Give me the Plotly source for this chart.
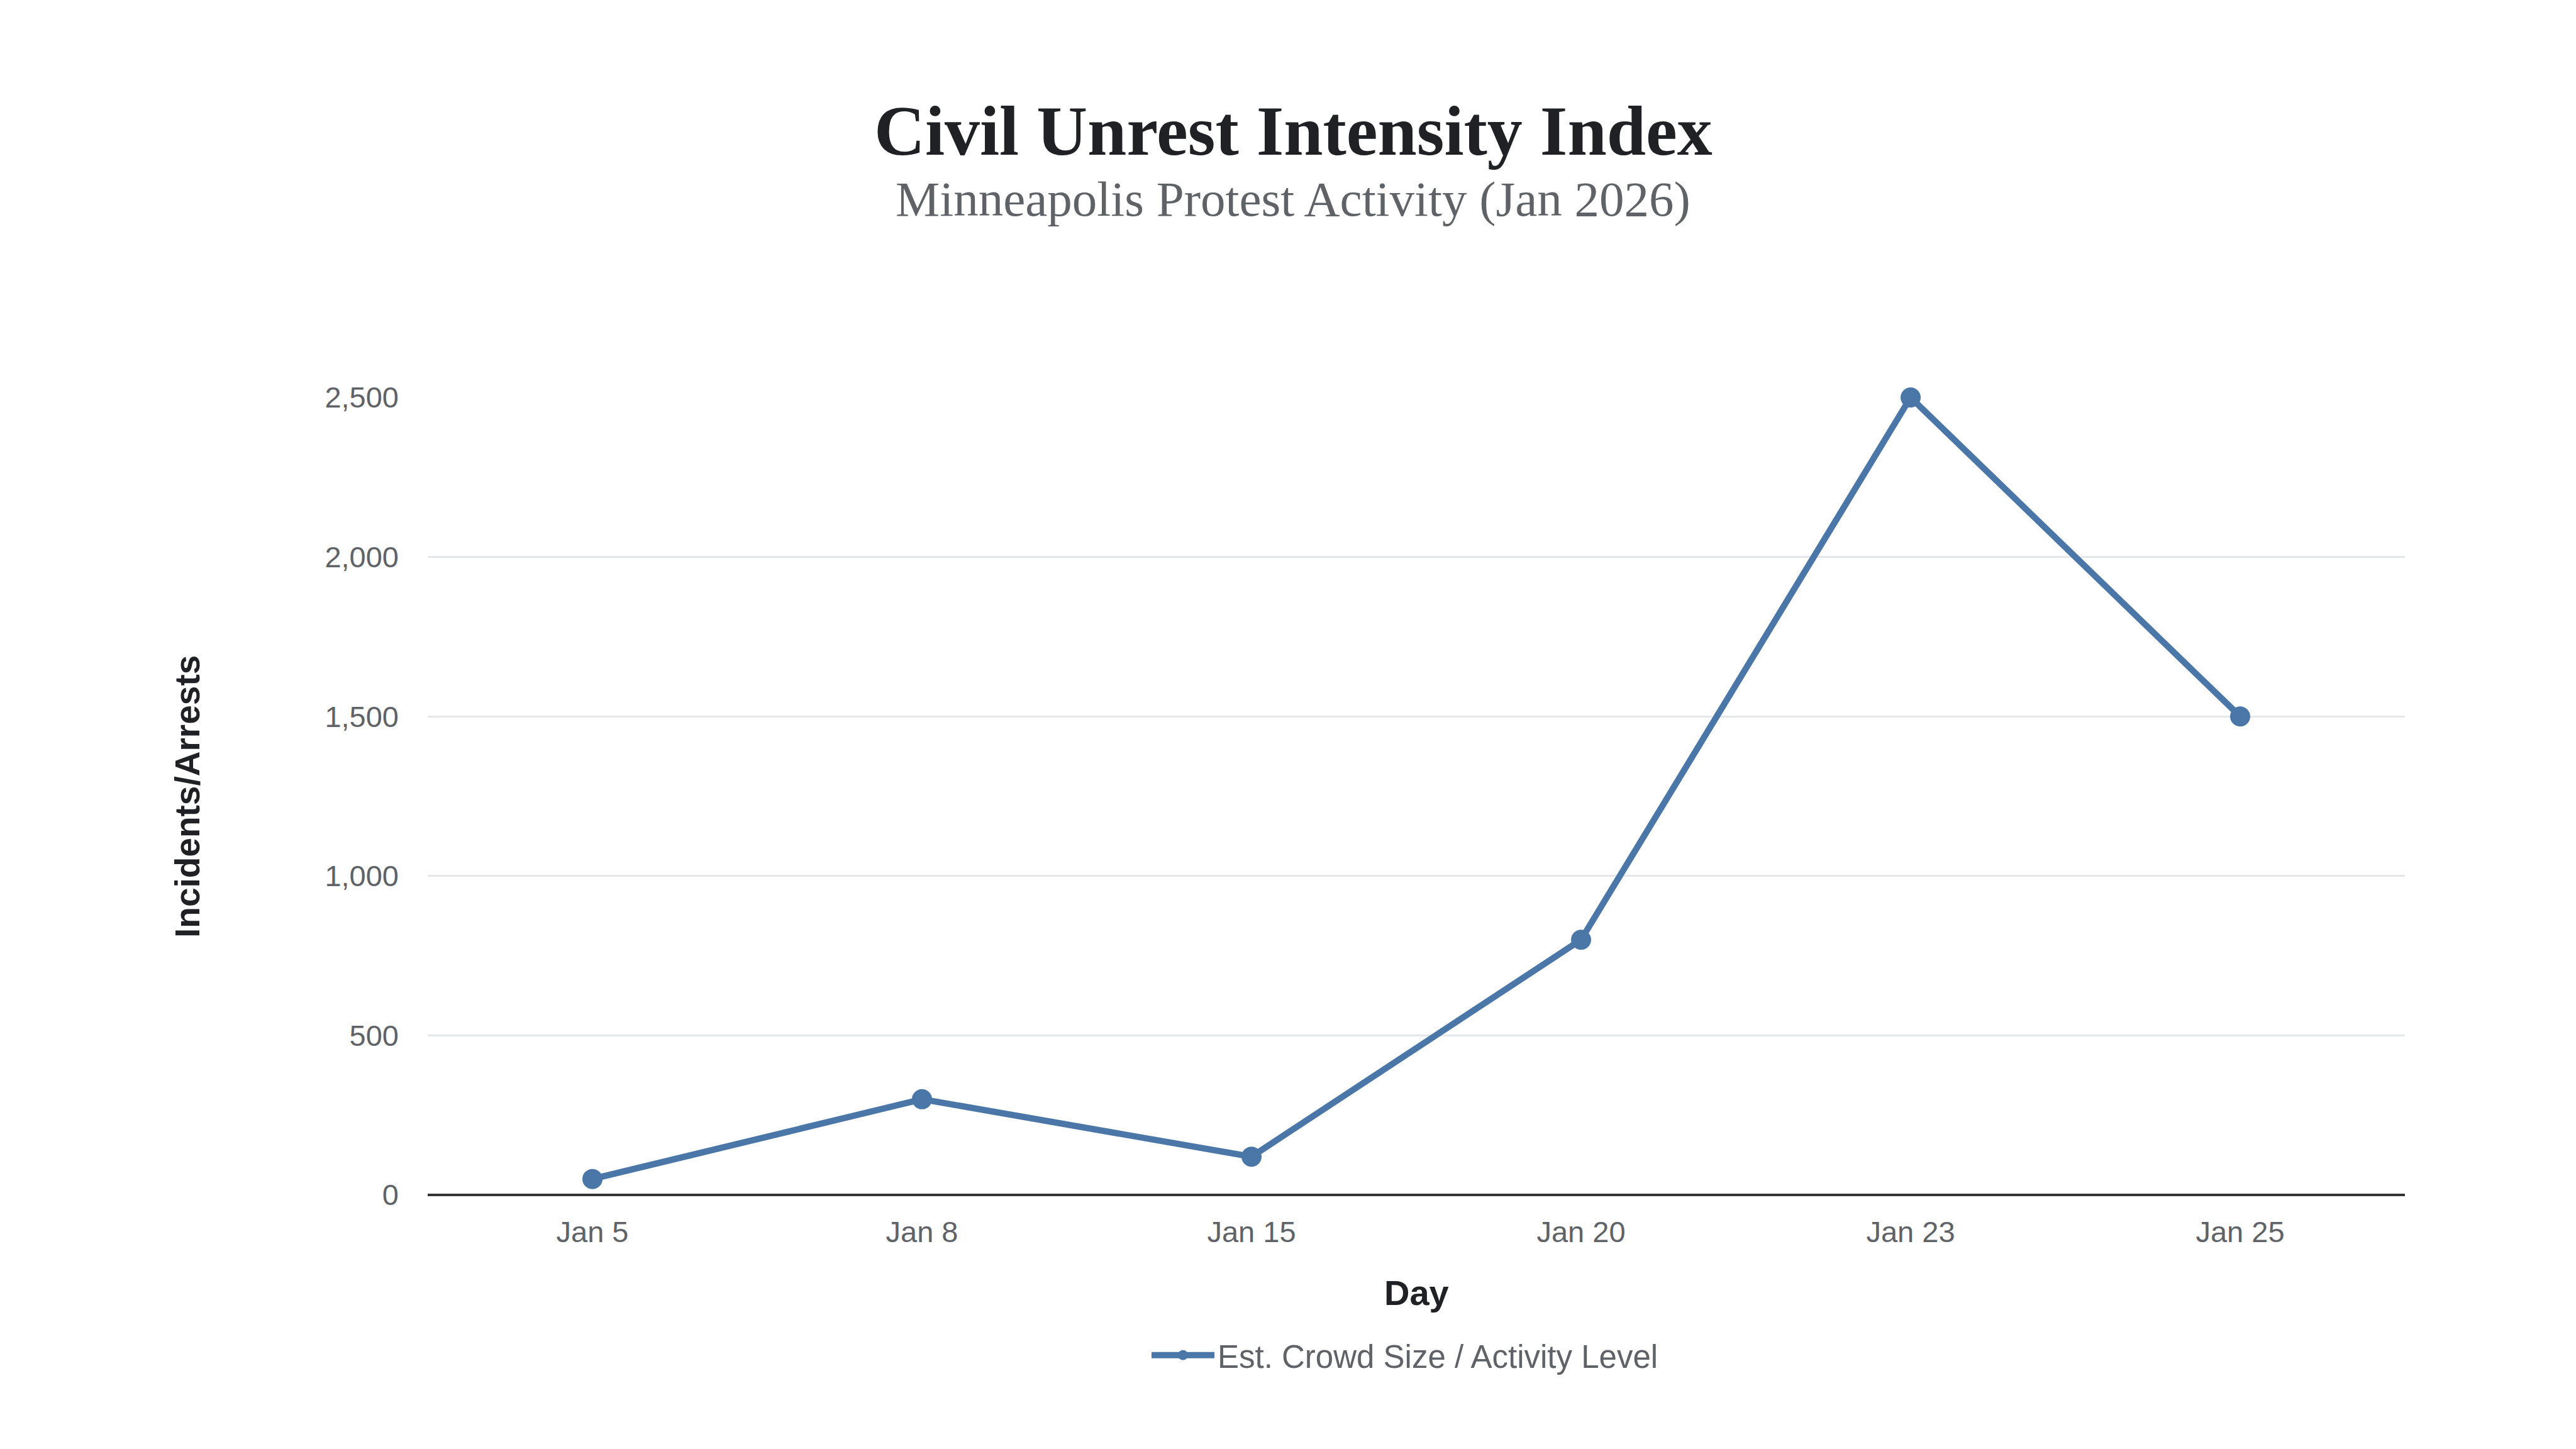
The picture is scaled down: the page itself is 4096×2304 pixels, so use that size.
import plotly.graph_objects as go

days = ["Jan 5", "Jan 8", "Jan 15", "Jan 20", "Jan 23", "Jan 25"]
activity = [50, 300, 120, 800, 2500, 1500]
y_ticks = [0, 500, 1000, 1500, 2000, 2500]
series_name = "Est. Crowd Size / Activity Level"

W, H = 4096, 2304
ML, MR, MT, MB = 672, 280, 624, 412
PW = W - ML - MR
PH = H - MT - MB

def py(pix):
    return (H - MB - pix) / PH

def px(pix):
    return (pix - ML) / PW

fig = go.Figure()
fig.add_trace(go.Scatter(
    x=days, y=activity, name=series_name, mode="lines+markers",
    line=dict(color="#4A77A8", width=10),
    marker=dict(color="#4A77A8", size=32),
    cliponaxis=False,
))

fig.update_layout(
    width=W, height=H,
    margin=dict(l=ML, r=MR, t=MT, b=MB),
    paper_bgcolor="white", plot_bgcolor="white",
    showlegend=True,
    legend=dict(orientation="h", x=0.5 - 18 / PW, xanchor="center", y=py(2147), yanchor="middle",
                itemwidth=100,
                font=dict(family="Liberation Sans, Arial, sans-serif", size=51, color="#5F6368")),
    xaxis=dict(type="category", range=[-0.5, 5.5], showgrid=False, zeroline=False,
               showline=False, ticks="",
               tickfont=dict(family="Liberation Sans, Arial, sans-serif", size=47, color="#5F6368"),
               ticklabelstandoff=27),
    yaxis=dict(range=[0, 2500], tickvals=y_ticks, tickformat=",d",
               showgrid=True, gridcolor="#E6E7EA", gridwidth=3,
               zeroline=True, zerolinecolor="#333333", zerolinewidth=4,
               showline=False, ticks="",
               tickfont=dict(family="Liberation Sans, Arial, sans-serif", size=47, color="#5F6368"),
               ticklabelstandoff=45),
    annotations=[
        dict(text="<b>Civil Unrest Intensity Index</b>", xref="paper", yref="paper",
             x=px(W / 2), y=py(200), xanchor="center", yanchor="middle", showarrow=False,
             font=dict(family="Liberation Serif, serif", size=112, color="#202124")),
        dict(text="Minneapolis Protest Activity (Jan 2026)", xref="paper", yref="paper",
             x=px(W / 2), y=py(308), xanchor="center", yanchor="middle", showarrow=False,
             font=dict(family="Liberation Serif, serif", size=79, color="#5F6368")),
        dict(text="<b>Incidents/Arrests</b>", xref="paper", yref="paper",
             x=px(290), y=py(1259), xanchor="center", yanchor="middle",
             textangle=-90, showarrow=False,
             font=dict(family="Liberation Sans, Arial, sans-serif", size=55, color="#202124")),
        dict(text="<b>Day</b>", xref="paper", yref="paper",
             x=0.5, y=py(2048), xanchor="center", yanchor="middle", showarrow=False,
             font=dict(family="Liberation Sans, Arial, sans-serif", size=56, color="#202124")),
    ],
)

fig.write_html("out.html")
